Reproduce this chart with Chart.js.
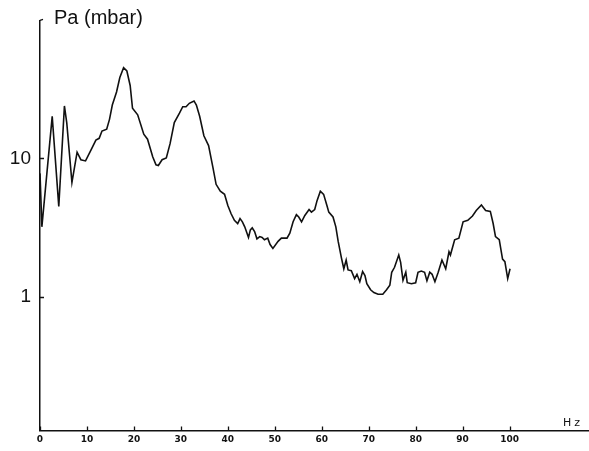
<!DOCTYPE html>
<html>
<head>
<meta charset="utf-8">
<script src="https://cdn.jsdelivr.net/npm/chart.js@4.4.1/dist/chart.umd.min.js"></script>
<style>
  html, body { margin: 0; padding: 0; background: #fff; }
  #wrap { width: 589px; height: 451px; position: relative; }
</style>
</head>
<body>
<div id="wrap"><canvas id="c"></canvas></div>
<script>
// Pressure spectrum: frequency (Hz) and pressure amplitude (mbar)
const freqHz = [
  0.0, 0.4, 2.6, 4.0, 5.2, 5.7, 6.8, 7.9, 8.7, 9.7,
  10.9, 11.9, 12.6, 13.2, 14.2, 14.8, 15.4, 16.3, 17.0, 17.8,
  18.5, 19.2, 19.7, 20.8, 22.1, 22.9, 24.0, 24.7, 25.2, 26.0,
  26.9, 27.7, 28.6, 29.7, 30.4, 31.1, 31.8, 32.8, 33.3, 34.0,
  34.9, 35.9, 36.8, 37.5, 38.4, 39.3, 40.0, 40.7, 41.4, 42.1,
  42.6, 43.1, 43.6, 44.4, 44.8, 45.2, 45.7, 46.2, 46.8, 47.3,
  47.8, 48.5, 49.0, 49.6, 50.7, 51.4, 52.6, 53.2, 53.9, 54.6,
  55.1, 55.7, 56.4, 57.3, 57.8, 58.5, 59.0, 59.7, 60.4, 61.1,
  61.5, 62.4, 63.0, 63.5, 64.2, 64.7, 65.2, 65.6, 66.3, 67.0,
  67.5, 68.1, 68.7, 69.2, 69.6, 70.4, 71.1, 72.0, 73.0, 73.8,
  74.5, 74.9, 75.5, 76.4, 76.8, 77.3, 77.9, 78.2, 79.1, 80.0,
  80.5, 81.2, 81.9, 82.4, 83.0, 83.5, 84.1, 84.8, 85.6, 86.4,
  87.1, 87.4, 88.3, 89.2, 90.1, 91.1, 92.1, 92.9, 94.0, 94.9,
  95.9, 96.5, 97.0, 97.8, 98.5, 99.0, 99.6, 100.1
];
const pressureMbar = [
  7.8, 3.2, 20.2, 4.5, 24.0, 18.1, 6.7, 11.1, 9.8, 9.6,
  11.6, 13.6, 14.0, 15.8, 16.3, 19.2, 24.4, 30.3, 38.6, 45.4,
  43.0, 33.8, 23.1, 20.7, 15.0, 13.8, 10.3, 9.0, 8.9, 9.8,
  10.1, 12.8, 18.2, 21.3, 23.7, 23.7, 25.1, 26.1, 24.4, 20.2,
  14.6, 12.4, 8.7, 6.5, 5.8, 5.5, 4.56, 3.98, 3.57, 3.38,
  3.67, 3.48, 3.2, 2.68, 3.04, 3.15, 2.96, 2.62, 2.72, 2.68,
  2.58, 2.65, 2.38, 2.23, 2.51, 2.65, 2.65, 2.88, 3.48, 3.92,
  3.77, 3.48, 3.87, 4.27, 4.09, 4.27, 4.95, 5.8, 5.5, 4.56,
  4.09, 3.77, 3.2, 2.51, 1.9, 1.59, 1.84, 1.56, 1.54, 1.35,
  1.45, 1.28, 1.52, 1.42, 1.24, 1.12, 1.07, 1.04, 1.04, 1.12,
  1.21, 1.50, 1.63, 2.0, 1.77, 1.31, 1.50, 1.26, 1.24, 1.26,
  1.50, 1.53, 1.50, 1.30, 1.50, 1.45, 1.28, 1.50, 1.84, 1.59,
  2.11, 2.0, 2.58, 2.65, 3.48, 3.57, 3.83, 4.2, 4.6, 4.2,
  4.14, 3.38, 2.72, 2.58, 1.87, 1.79, 1.35, 1.59
];
const xTickValues = [0, 10, 20, 30, 40, 50, 60, 70, 80, 90, 100];
const yTickValues = [1, 10];
const yAxisTitle = 'Pa (mbar)';
const xAxisUnit = 'Hz';

const ink = '#111';

// Inward tick marks, axis title and unit label
const axisDecor = {
  id: 'axisDecor',
  afterDraw(chart) {
    const { ctx, chartArea: a, scales: { x, y } } = chart;
    ctx.save();
    ctx.strokeStyle = ink;
    ctx.lineWidth = 1.3;
    ctx.beginPath();
    yTickValues.forEach(v => {
      const py = Math.round(y.getPixelForValue(v)) + 0.5;
      ctx.moveTo(a.left, py);
      ctx.lineTo(a.left + 4, py);
    });
    xTickValues.forEach(v => {
      const px = Math.round(x.getPixelForValue(v)) + 0.5;
      ctx.moveTo(px, a.bottom);
      ctx.lineTo(px, a.bottom - 4);
    });
    ctx.moveTo(a.left, a.top);
    ctx.lineTo(a.left + 3, a.top - 1);
    ctx.stroke();

    ctx.fillStyle = ink;
    ctx.textAlign = 'left';
    ctx.textBaseline = 'middle';
    ctx.font = '20px "Liberation Sans", Arial, sans-serif';
    ctx.fillText(yAxisTitle, 54, 18);
    ctx.font = '11px "DejaVu Sans", sans-serif';
    ctx.letterSpacing = '3px';
    ctx.fillText(xAxisUnit, 563, a.bottom - 7);
    ctx.restore();
  }
};

const points = freqHz.map((f, i) => ({ x: f, y: pressureMbar[i] }));

new Chart(document.getElementById('c'), {
  type: 'line',
  data: {
    datasets: [{
      data: points,
      borderColor: ink,
      borderWidth: 1.6,
      pointRadius: 0,
      tension: 0,
      fill: false
    }]
  },
  options: {
    responsive: true,
    maintainAspectRatio: false,
    animation: false,
    devicePixelRatio: 1,
    layout: { padding: { top: 15, right: 1, left: 0, bottom: 0 } },
    plugins: { legend: { display: false }, tooltip: { enabled: false } },
    scales: {
      x: {
        type: 'linear',
        min: 0,
        max: 116.7,
        afterBuildTicks: s => { s.ticks = xTickValues.map(v => ({ value: v })); },
        afterFit: s => { s.height = 19; },
        grid: { display: true, drawOnChartArea: false, drawTicks: false },
        border: { display: true, color: ink, width: 1.5 },
        ticks: {
          color: ink,
          padding: 4,
          maxRotation: 0,
          autoSkip: false,
          font: { family: '"DejaVu Sans", sans-serif', size: 9, weight: 'bold' },
          callback: v => String(v)
        }
      },
      y: {
        type: 'logarithmic',
        min: 0.107,
        max: 100,
        afterBuildTicks: s => { s.ticks = yTickValues.map(v => ({ value: v })); },
        afterFit: s => { s.width = 40; },
        grid: { display: true, drawOnChartArea: false, drawTicks: false },
        border: { display: true, color: ink, width: 1.5 },
        ticks: {
          color: ink,
          padding: 9,
          autoSkip: false,
          font: { family: '"Liberation Sans", Arial, sans-serif', size: 19 },
          callback: v => String(v)
        }
      }
    }
  },
  plugins: [axisDecor]
});
</script>
</body>
</html>
